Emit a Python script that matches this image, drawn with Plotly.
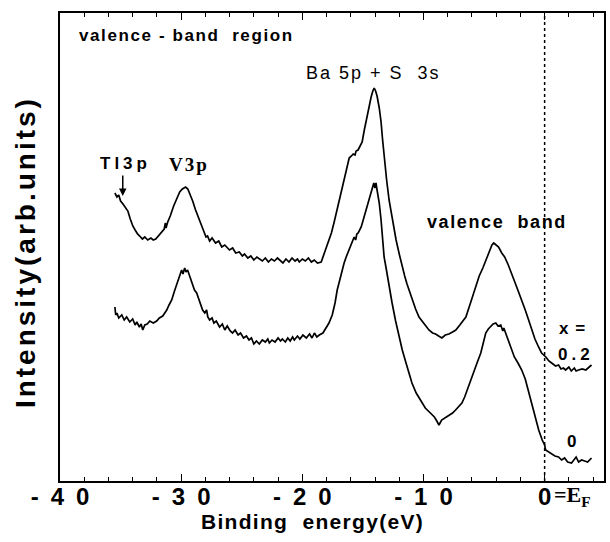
import plotly.graph_objects as go

# Binding energy (eV) and intensity (arb. units) for x = 0.2 (upper curve)
energy_x02 = [-35.47,-35.30,-35.15,-35.00,-34.80,-34.60,-34.40,-34.20,-33.99,-33.80,-33.60,-33.42,-33.20,-33.00,-32.76,-32.50,-32.30,-32.10,-31.85,-31.60,-31.40,-31.30,-31.25,-31.11,-30.90,-30.62,-30.40,-30.12,-29.90,-29.63,-29.45,-29.30,-29.05,-28.81,-28.55,-28.31,-28.10,-27.95,-27.82,-27.65,-27.45,-27.16,-26.90,-26.65,-26.40,-26.01,-25.75,-25.50,-25.20,-24.95,-24.77,-24.50,-24.25,-24.00,-23.75,-23.54,-23.30,-23.05,-22.80,-22.55,-22.30,-22.05,-21.89,-21.60,-21.35,-21.10,-20.85,-20.60,-20.40,-20.25,-20.00,-19.75,-19.50,-19.25,-19.01,-18.75,-18.44,-18.11,-17.95,-17.78,-17.60,-17.37,-17.15,-16.95,-16.75,-16.54,-16.35,-16.13,-15.95,-15.80,-15.65,-15.56,-15.40,-15.20,-15.06,-14.90,-14.73,-14.50,-14.32,-14.18,-14.07,-13.95,-13.83,-13.65,-13.50,-13.38,-13.25,-13.05,-12.84,-12.55,-12.26,-12.00,-11.77,-11.55,-11.36,-11.15,-10.95,-10.65,-10.37,-10.00,-9.75,-9.55,-9.25,-9.00,-8.75,-8.48,-8.20,-7.90,-7.60,-7.33,-7.00,-6.75,-6.50,-6.20,-5.95,-5.68,-5.40,-5.10,-4.86,-4.55,-4.35,-4.20,-4.00,-3.80,-3.54,-3.30,-3.00,-2.72,-2.40,-2.15,-1.89,-1.60,-1.35,-1.07,-0.80,-0.50,-0.25,0.10,0.35,0.58,0.90,1.15,1.35,1.55,1.73,2.00,2.20,2.45,2.60,2.80,3.10,3.40,3.65,3.87]
intensity_x02 = [288,284,286,280,277,273,270,262,255,251,247,245,242,244,241,243,241,242,246,249,252,258,253,259,265,275,281,289,292,294,292,288,280,271,263,255,248,244,245,240,243,238,240,234,236,231,233,228,229,225,227,223,225,221,224,222,220,223,219,222,220,223,221,218,222,219,223,220,222,219,222,220,223,219,221,218,219,230,236,243,248,259,270,281,292,303,313,323,325,327,326,330,331,335,339,350,361,374,384,390,393,390,385,373,359,342,323,302,281,260,241,227,214,205,197,189,181,172,164,158,154,151,148,147,145,143,146,147,149,151,156,160,164,175,184,194,205,213,221,231,236,238,236,234,228,224,216,208,197,189,181,171,162,151,142,134,128,124,120,118,115,116,112,113,111,114,110,113,110,111,112,111,114,116]

# x = 0 (lower curve)
energy_x0 = [-35.47,-35.40,-35.30,-35.15,-34.90,-34.70,-34.50,-34.24,-34.00,-33.80,-33.66,-33.45,-33.30,-33.17,-33.00,-32.80,-32.59,-32.30,-32.02,-31.80,-31.52,-31.30,-31.19,-31.00,-30.78,-30.55,-30.37,-30.15,-29.96,-29.85,-29.71,-29.60,-29.47,-29.30,-29.15,-29.05,-28.90,-28.72,-28.50,-28.35,-28.23,-28.05,-27.90,-27.80,-27.65,-27.45,-27.30,-27.10,-26.83,-26.60,-26.40,-26.20,-25.95,-25.76,-25.55,-25.30,-25.10,-24.85,-24.61,-24.40,-24.20,-24.00,-23.79,-23.55,-23.30,-23.05,-22.85,-22.72,-22.50,-22.25,-22.00,-21.80,-21.65,-21.40,-21.20,-21.00,-20.80,-20.66,-20.40,-20.20,-19.95,-19.67,-19.40,-19.20,-19.00,-18.80,-18.60,-18.30,-18.02,-17.80,-17.53,-17.30,-17.12,-16.90,-16.71,-16.55,-16.38,-16.15,-15.97,-15.85,-15.72,-15.60,-15.50,-15.39,-15.25,-15.14,-14.95,-14.73,-14.50,-14.32,-14.20,-14.10,-14.00,-13.92,-13.83,-13.65,-13.50,-13.38,-13.25,-13.10,-13.00,-12.80,-12.59,-12.30,-12.02,-11.75,-11.44,-11.20,-10.95,-10.60,-10.30,-10.12,-9.85,-9.60,-9.30,-9.10,-8.90,-8.72,-8.50,-8.25,-7.90,-7.60,-7.35,-7.10,-6.83,-6.60,-6.40,-6.20,-6.01,-5.80,-5.55,-5.27,-5.05,-4.86,-4.65,-4.44,-4.25,-4.03,-3.85,-3.62,-3.45,-3.37,-3.15,-2.95,-2.72,-2.50,-2.20,-1.89,-1.60,-1.35,-1.07,-0.80,-0.49,-0.20,0.00,0.08,0.35,0.60,0.85,1.15,1.40,1.65,1.90,2.22,2.45,2.60,2.80,3.05,3.30,3.55,3.87]
intensity_x0 = [174,166,168,163,166,161,164,159,162,156,159,154,157,151,156,157,160,158,160,163,165,169,171,176,181,190,196,203,211,207,213,209,211,205,200,196,191,188,180,174,171,168,171,164,161,163,158,160,154,157,151,155,150,148,151,146,148,143,145,141,143,137,140,137,141,139,142,138,141,139,143,140,142,139,143,140,144,141,145,142,146,143,147,143,148,144,146,148,153,158,166,178,191,202,211,218,224,231,236,240,244,241,247,248,251,254,262,271,280,288,293,298,293,298,291,278,261,243,224,214,206,192,178,160,144,131,118,107,98,88,82,78,73,70,66,64,60,56,61,63,65,68,71,74,78,84,91,97,104,112,119,128,138,148,152,155,157,158,155,156,150,153,146,139,131,124,118,111,102,90,78,66,51,41,36,31,29,27,25,24,21,23,19,18,22,24,19,21,20,19,23]

tick_values = [-40, -30, -20, -10, 0]
tick_labels = ["-\u20024\u20020", "-\u20023\u20020", "-\u20022\u20020", "-\u20021\u20020", "0"]

SANS = "Arial, Liberation Sans, sans-serif"
SERIF = "Times New Roman, Liberation Serif, serif"

fig = go.Figure()
fig.add_trace(go.Scatter(x=energy_x02, y=intensity_x02, mode="lines", xaxis="x2",
                         line=dict(color="black", width=1.7), showlegend=False, hoverinfo="skip"))
fig.add_trace(go.Scatter(x=energy_x0, y=intensity_x0, mode="lines",
                         line=dict(color="black", width=1.7), showlegend=False, hoverinfo="skip"))

fig.add_shape(type="line", x0=0, x1=0, y0=0, y1=1, xref="x", yref="paper",
              line=dict(color="black", width=1.5, dash="dot"))

common_ticks = dict(showgrid=False, zeroline=False, range=[-40, 4.9],
                    showline=True, linecolor="black", linewidth=1.6,
                    ticks="inside", ticklen=7, tickwidth=1.4, tickcolor="black",
                    minor=dict(dtick=2, ticks="inside", ticklen=4, tickwidth=1.2, tickcolor="black"))

fig.update_layout(
    width=610, height=542,
    margin=dict(l=60, r=4, t=13, b=61),
    paper_bgcolor="white", plot_bgcolor="white",
    font=dict(family=SANS, color="black"),
    xaxis=dict(**common_ticks, tickvals=tick_values, ticktext=tick_labels,
               ticklabelstandoff=-7,
               tickfont=dict(size=24, weight="bold", family=SANS)),
    xaxis2=dict(**common_ticks, overlaying="x", side="top", tickvals=tick_values,
                showticklabels=False),
    yaxis=dict(range=[0, 468], showgrid=False, zeroline=False,
               showline=True, linecolor="black", linewidth=1.6, mirror=True,
               showticklabels=False, ticks=""),
)

ann = []
def A(text, x, y, size, bold=True, family=SANS, ls=0, **kw):
    t = f"<b>{text}</b>" if bold else text
    if ls:
        t = f'<span style="letter-spacing:{ls}px">{t}</span>'
    d = dict(text=t, x=x, y=y, xref="paper", yref="paper", showarrow=False,
             font=dict(size=size, family=family, color="black"))
    d.update(kw)
    ann.append(d)

def px(x):
    return (x - 60) / (606 - 60)
def py(y):
    return (481 - y) / (481 - 13)

A("valence - band  region", px(77), py(35), 17, ls=1.6, xanchor="left", yanchor="middle")
A("Ba 5p + S  3s", px(305), py(73), 18, bold=False, ls=2, xanchor="left", yanchor="middle")
A("Tl3p", px(98), py(164), 17, ls=4, xanchor="left", yanchor="middle")
A("V3p", px(167), py(165), 19, family=SERIF, ls=2, xanchor="left", yanchor="middle")
A("valence  band", px(426), py(222), 18, ls=1.6, xanchor="left", yanchor="middle")
A("x =", px(559), py(328), 17, ls=1, xanchor="left", yanchor="middle")
A("0.2", px(558), py(354), 17, ls=4, xanchor="left", yanchor="middle")
A("0", px(567), py(441), 17, xanchor="left", yanchor="middle")
A("=E<sub>F</sub>", px(554), py(496), 22, family=SERIF, xanchor="left", yanchor="middle")
A("Binding  energy(eV)", px(313), py(521), 21, ls=1.3, xanchor="center", yanchor="middle")
A("Intensity(arb.units)", px(26), py(252), 28, ls=3, textangle=-90, xanchor="center", yanchor="middle")

# arrow for Tl3p
ann.append(dict(x=px(123), y=py(196), ax=0, ay=-22, xref="paper", yref="paper",
                axref="pixel", ayref="pixel", showarrow=True, arrowhead=2, arrowsize=1,
                arrowwidth=1.5, arrowcolor="black", text=""))

fig.update_layout(annotations=ann)
fig.write_html("out.html")
